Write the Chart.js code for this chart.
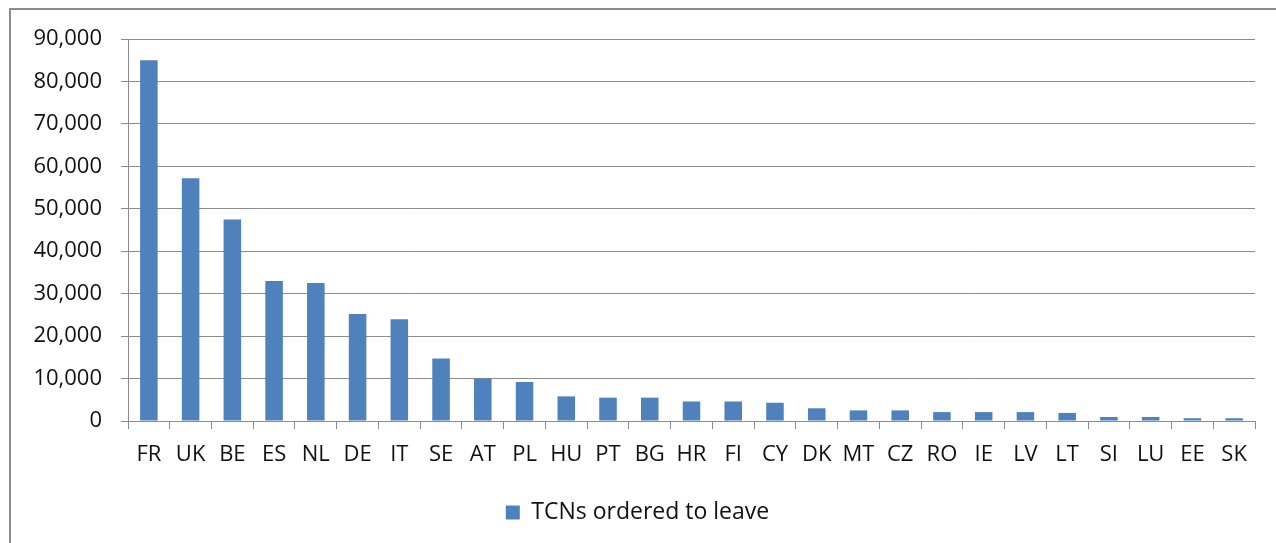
<!DOCTYPE html>
<html>
<head>
<meta charset="utf-8">
<script src="https://cdn.jsdelivr.net/npm/chart.js@4/dist/chart.umd.min.js"></script>
<style>
  html, body { margin: 0; padding: 0; background: #fff; overflow: hidden; }
  .frame {
    position: absolute; left: 9px; top: 8px; width: 1400px; height: 700px;
    border: 2px solid #8c8c8c; box-sizing: border-box;
  }
  .wrap { position: absolute; left: 0; top: 0; width: 1276px; height: 543px; }
</style>
</head>
<body>
<div class="frame"></div>
<div class="wrap"><canvas id="chart"></canvas></div>
<script>
// countries, sorted by number of third-country nationals ordered to leave
const countries = ['FR', 'UK', 'BE', 'ES', 'NL', 'DE', 'IT', 'SE', 'AT', 'PL', 'HU', 'PT', 'BG', 'HR',
  'FI', 'CY', 'DK', 'MT', 'CZ', 'RO', 'IE', 'LV', 'LT', 'SI', 'LU', 'EE', 'SK'];
const orderedToLeave = [85000, 57200, 47500, 33000, 32500, 25200, 24000, 14700, 10000, 9200, 5800, 5500, 5500, 4600,
  4600, 4300, 3000, 2500, 2500, 2100, 2100, 2100, 1900, 950, 950, 650, 650];
const seriesName = 'TCNs ordered to leave';

const fontFamily = '"Open Sans", "Liberation Sans", sans-serif';
const gridGray = '#8c8c8c';
const textColor = '#111';

const ctx = document.getElementById('chart');

new Chart(ctx, {
  type: 'bar',
  data: {
    labels: countries,
    datasets: [
      {
        label: seriesName,
        data: orderedToLeave,
        backgroundColor: '#4f81bd',
        borderWidth: 0,
        barPercentage: 0.42,
        categoryPercentage: 1,
      },
    ],
  },
  options: {
    responsive: true,
    maintainAspectRatio: false,
    animation: false,
    layout: { padding: { left: 20, right: 21, top: 39, bottom: 9 } },
    plugins: {
      tooltip: { enabled: false },
      legend: {
        position: 'bottom',
        labels: {
          color: textColor,
          font: { family: fontFamily, size: 23 },
          boxWidth: 14,
          boxHeight: 14,
          padding: 10,
        },
      },
    },
    scales: {
      x: {
        offset: true,
        afterFit: (scale) => { scale.height = 70; },
        grid: {
          offset: true,
          drawOnChartArea: false,
          color: gridGray,
          tickLength: 8,
        },
        border: { color: gridGray, width: 1 },
        ticks: {
          color: textColor,
          font: { family: fontFamily, size: 22 },
          padding: 13,
          maxRotation: 0,
          autoSkip: false,
        },
      },
      y: {
        min: 0,
        max: 90000,
        afterFit: (scale) => { scale.width = 108; },
        grid: { color: gridGray, tickLength: 7 },
        border: { color: gridGray, width: 1 },
        ticks: {
          stepSize: 10000,
          color: textColor,
          font: { family: fontFamily, size: 22 },
          padding: 19,
          callback: (v) => v.toLocaleString('en-US'),
        },
      },
    },
  },
});
</script>
</body>
</html>
